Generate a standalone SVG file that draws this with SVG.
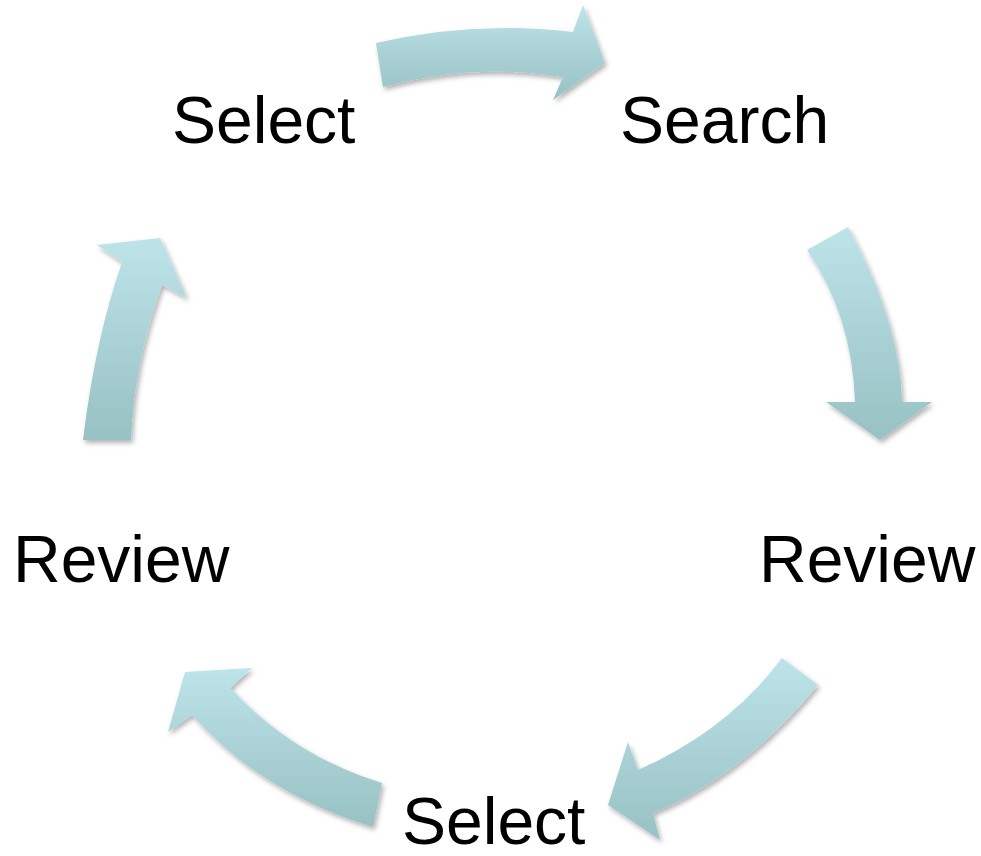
<svg xmlns="http://www.w3.org/2000/svg" width="981" height="856" viewBox="0 0 981 856">
  <defs>
    <linearGradient id="arrowFill" x1="0" y1="0" x2="0" y2="1">
      <stop offset="0" stop-color="#BDE4E9"/>
      <stop offset="1" stop-color="#98C1C4"/>
    </linearGradient>
    <filter id="softShadow" x="-20%" y="-20%" width="140%" height="140%">
      <feDropShadow dx="2" dy="3" stdDeviation="2.5" flood-color="#000" flood-opacity="0.3"/>
    </filter>
    <style>
      .label { font-family: "Liberation Sans", Arial, sans-serif; font-size: 66px; fill: #000; }
      .arrow { fill: url(#arrowFill); stroke: none; filter: url(#softShadow); }
    </style>
  </defs>
  <rect width="981" height="856" fill="#fff"/>

  <!-- curved cycle arrows -->
  <g id="connectors">
    <path id="arrow-select-search" class="arrow" d="M376,43 Q475,20 573,32 L583,5 L605,63 L553,100 L563,77 Q473,62 383,87 Z"/>
    <path id="arrow-search-review" class="arrow" d="M807,250 Q852,315 855,402 L826,402 L880,440 L932,402 L902,402 Q901,325 848,227 Z"/>
    <path id="arrow-review-select" class="arrow" d="M782,658 Q728,730 638,770 L628,742 L608,805 L660,840 L653,813 Q744,775 818,685 Z"/>
    <path id="arrow-select-review" class="arrow" d="M382,783 Q294,756 230,688 L252,668 L185,672 L168,732 L192,715 Q261,793 373,827 Z"/>
    <path id="arrow-review-select-top" class="arrow" d="M83,440 Q95,340 122,262 L97,245 L160,238 L187,298 L162,285 Q134,362 131,440 Z"/>
  </g>

  <g id="node-select-top"><text class="label" x="172" y="143">Select</text></g>
  <g id="node-search"><text class="label" x="620" y="143">Search</text></g>
  <g id="node-review-right"><text class="label" x="759" y="582">Review</text></g>
  <g id="node-select-bottom"><text class="label" x="402" y="844">Select</text></g>
  <g id="node-review-left"><text class="label" x="13" y="582">Review</text></g>
</svg>
